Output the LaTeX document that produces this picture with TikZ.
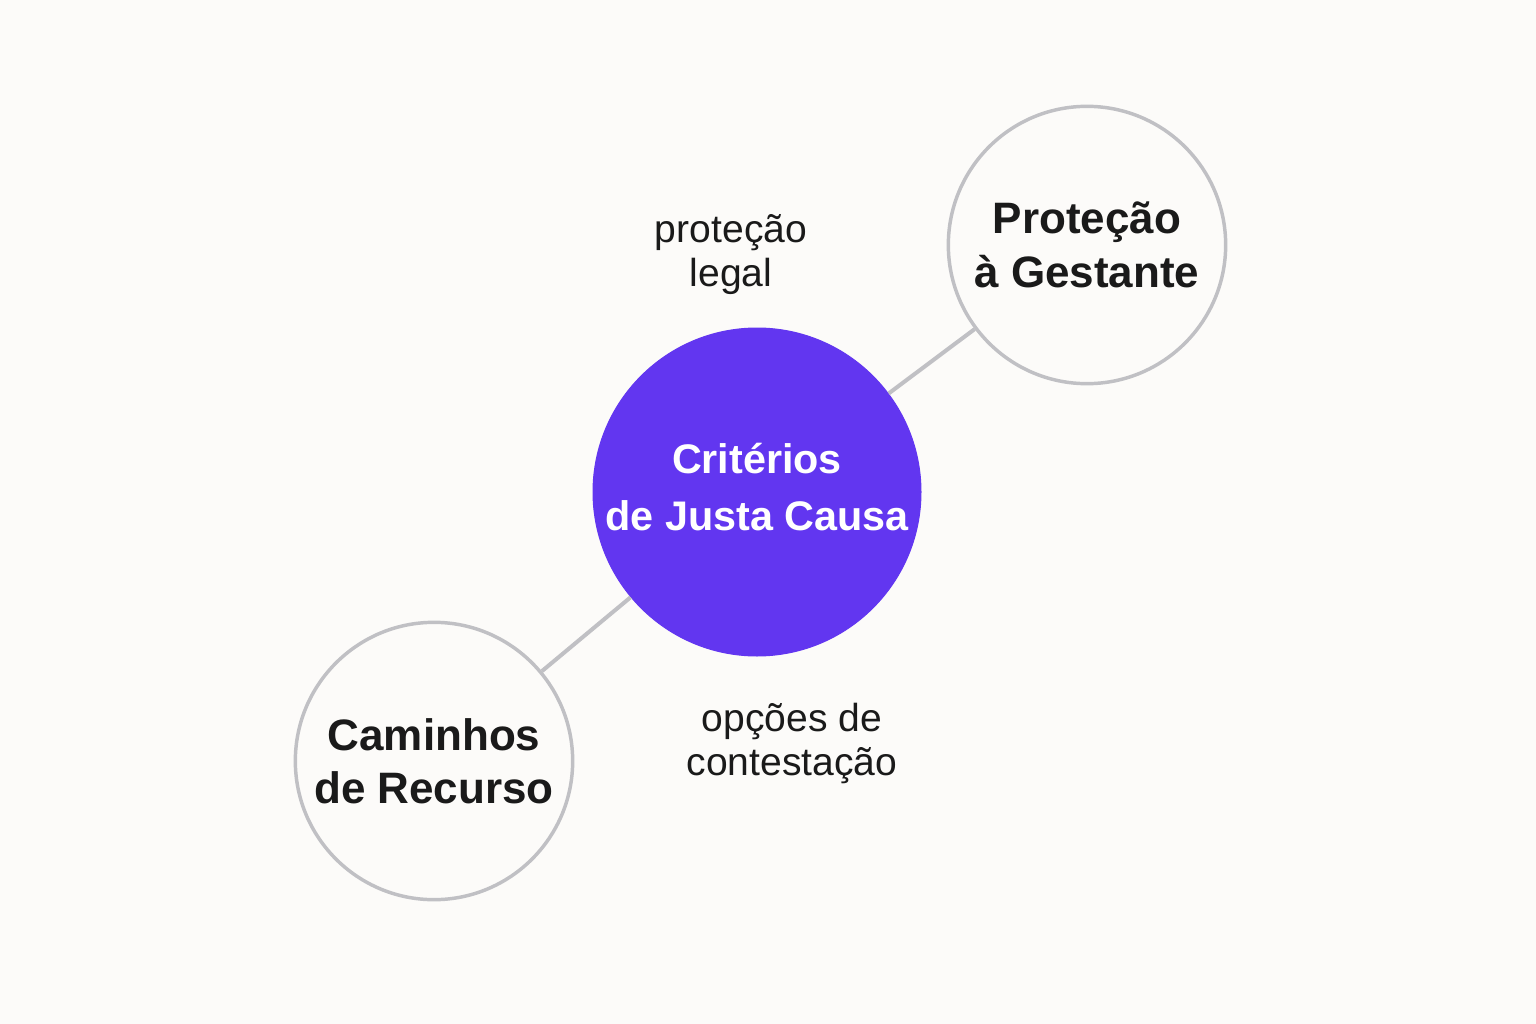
\documentclass[tikz,border=0pt]{standalone}
\usepackage{fontspec}
\setmainfont{Liberation Sans}
\definecolor{fundo}{RGB}{252,251,249}
\definecolor{roxo}{RGB}{98,54,240}
\definecolor{cinza}{RGB}{192,192,196}
\definecolor{tinta}{RGB}{26,26,26}
\tikzset{every picture/.style={line width=0.75pt}}
\tikzset{
  centro/.style={circle, fill=roxo, draw=roxo, minimum size=246pt, inner sep=0pt},
  textocentro/.style={text=white, align=center, font=\fontsize{31}{42.75}\selectfont\bfseries},
  ramo/.style={circle, fill=fundo, draw=cinza, line width=2.6pt, minimum size=208pt, inner sep=0pt, text=tinta, align=center,
    font=\fontsize{33}{40}\selectfont\bfseries},
  rotulo/.style={text=tinta, align=center, font=\fontsize{29.3}{33}\selectfont},
  ligacao/.style={draw=cinza, line width=3pt}
}

\begin{document}
\begin{tikzpicture}[x=0.75pt,y=0.75pt,yscale=-1,xscale=1]
	%set diagram size: 1536 x 1024
	\path [use as bounding box, fill=fundo] (0,0) rectangle (1536,1024);

	%Shape: Circle [id:criterios]
	\node [centro] (crit) at (757,492) {};
	\node [textocentro] (critTxt) at (757,487) {Critérios\\de Justa Causa};
	%Shape: Circle [id:gestante]
	\node [ramo] (gest) at (1087,245) {Proteção\\à Gestante};
	%Shape: Circle [id:recurso]
	\node [ramo] (rec) at (434,761) {Caminhos\\de Recurso};

	%Straight Lines
	\draw [ligacao] (crit) -- (gest);
	\draw [ligacao] (crit) -- (rec);

	% Text Node
	\node [rotulo] (legal) at (731,255) {proteção\\legal};
	% Text Node
	\node [rotulo] (contest) at (792,743) {opções de\\contestação};

\end{tikzpicture}
\end{document}
